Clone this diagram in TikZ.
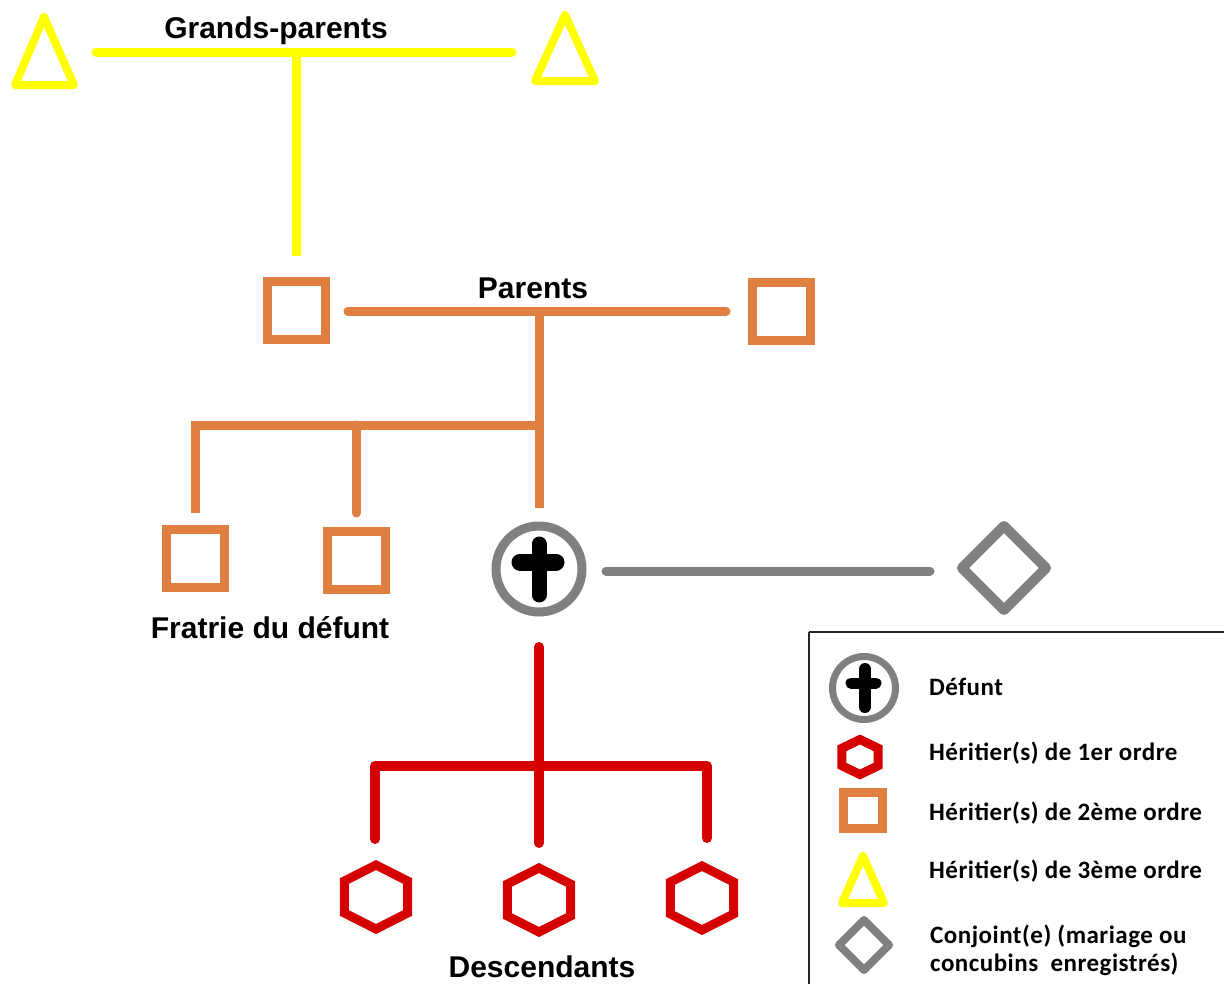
\documentclass[tikz,border=0pt]{standalone}
\usepackage{fontspec}
\setmainfont{Liberation Sans}
\newfontfamily\legfont[LetterSpace=2]{Carlito}
\usetikzlibrary{shapes.geometric,calc}
\definecolor{ylw}{RGB}{255,255,0}
\definecolor{org}{RGB}{224,128,64}
\definecolor{rd}{RGB}{213,0,0}
\definecolor{gry}{RGB}{128,128,128}
\begin{document}
\begin{tikzpicture}[x=1pt,y=-1pt,
  lbl/.style={font=\fontsize{30}{34}\selectfont\bfseries,inner sep=0pt,anchor=base},
  leg/.style={font=\legfont\fontsize{25}{28}\selectfont\bfseries,inner sep=0pt,anchor=base west},
  sqbox/.style={draw=org,line width=9pt,minimum size=58pt,inner sep=0pt,outer sep=0pt},
  hexbox/.style={draw=rd,line width=9pt,regular polygon,regular polygon sides=6,shape border rotate=30,minimum size=64pt,inner sep=0pt,outer sep=0pt,xscale=1.14},
  tri/.style={draw=ylw,line width=8pt,line join=round},
  defbox/.style={circle,draw=gry,line width=9pt,minimum size=86pt,inner sep=0pt,outer sep=0pt},
  crossline/.style={line cap=round,black},
  spouse/.style={diamond,draw=gry,line width=10pt,line join=round,minimum width=84pt,minimum height=84pt,inner sep=0pt,outer sep=0pt},
  ylink/.style={draw=ylw,line width=9pt},
  olink/.style={draw=org,line width=9pt},
  glink/.style={draw=gry,line width=9pt,line cap=round},
  rlink/.style={draw=rd,line width=10pt,line cap=round,line join=round}]
\useasboundingbox (0,0) rectangle (1224,983);
\fill[white] (0,0) rectangle (1224,983);

% ---- grandparents
\draw[tri] (44,17) -- (74,85) -- (15,85) -- cycle;
\coordinate (gpL) at (44,55);
\draw[tri] (565,15) -- (595,81) -- (535,81) -- cycle;
\coordinate (gpR) at (565,52);
\node[lbl] (tgp) at (276,38) {Grands-parents};
\coordinate (yA) at (96,52);
\coordinate (yB) at (512,52);
\coordinate (yJ) at (296,52);

% ---- parents
\node[sqbox] (pL) at (296,310) {};
\node[sqbox] (pR) at (781,311) {};
\node[lbl] (tpar) at (533,298) {Parents};
\coordinate (oA) at (348,311);
\coordinate (oB) at (726,311);
\coordinate (oJ) at (539,311);

% ---- siblings and deceased
\node[sqbox] (s1) at (195.5,558) {};
\node[sqbox] (s2) at (356,560) {};
\node[lbl] (tfr) at (270,638) {Fratrie du défunt};
\node[defbox] (def) at (539,569) {};
\draw[crossline,line width=15pt] ($(def.center)+(0,-25)$) -- ($(def.center)+(0,26)$);
\draw[crossline,line width=17pt] ($(def.center)+(-19,-7)$) -- ($(def.center)+(17,-7)$);
\node[spouse] (sp) at (1004,568) {};
\coordinate (gA) at (606,571);
\coordinate (gB) at (930,571);

\coordinate (oL) at (195.5,425);
\coordinate (oM) at (356,425);
\coordinate (oR) at (539,425);

% ---- descendants
\node[hexbox] (h1) at (376,897) {};
\node[hexbox] (h2) at (539,900) {};
\node[hexbox] (h3) at (702,898) {};
\node[lbl] (tdesc) at (542,977) {Descendants};
\coordinate (rT) at (539,647);
\coordinate (rB) at (539,843);
\coordinate (rL) at (375,766);
\coordinate (rR) at (707,766);
\coordinate (rLe) at (375,839);
\coordinate (rRe) at (707,838);

% ---- connectors
\draw[ylink,line cap=round] (yA) -- (yB);
\draw[ylink] (yJ) -- ($(pL.north)+(0,-25)$);
\draw[olink,line cap=round] (oA) -- (oB);
\draw[olink] (oJ) -- ($(def.north)+(0,-18)$);
\draw[olink,line join=miter] ($(s1.north)+(0,-16)$) -- (oL) -- (oR);
\draw[olink,line cap=round] (oM) -- ($(s2.north)+(0,-18)$);
\draw[glink] (gA) -- (gB);
\draw[rlink] (rT) -- (rB);
\draw[rlink] (rLe) -- (rL) -- (rR) -- (rRe);

% ---- legend
\draw[line width=1.6pt,black!85] (809,632) -- (1230,632);
\draw[line width=1.6pt,black!85] (809,632) -- (809,990);
\node[defbox,line width=7pt,minimum size=63pt] (ldef) at (864,688) {};
\draw[crossline,line width=12pt] ($(ldef.center)+(1,-19)$) -- ($(ldef.center)+(1,19)$);
\draw[crossline,line width=11pt] ($(ldef.center)+(-13,-5)$) -- ($(ldef.center)+(12,-5)$);
\node[leg] (tl1) at (929,695) {Défunt};
\node[hexbox,minimum size=35pt,xscale=1.05] (lhex) at (860,757) {};
\node[leg] (tl2) at (929,760) {Héritier(s) de 1er ordre};
\node[sqbox,minimum width=39pt,minimum height=36pt] (lsq) at (863,810.5) {};
\node[leg] (tl3) at (929,820) {Héritier(s) de 2ème ordre};
\draw[tri] (863,856) -- (884,903) -- (842,903) -- cycle;
\coordinate (ltri) at (863,885);
\node[leg] (tl4) at (929,878) {Héritier(s) de 3ème ordre};
\node[spouse,line width=8pt,minimum width=50pt,minimum height=50pt] (lsp) at (864,945) {};
\node[leg] (tl5) at (930,943) {Conjoint(e) (mariage ou};
\node[leg] (tl6) at (930,971) {concubins\ \ enregistrés)};
\end{tikzpicture}
\end{document}
